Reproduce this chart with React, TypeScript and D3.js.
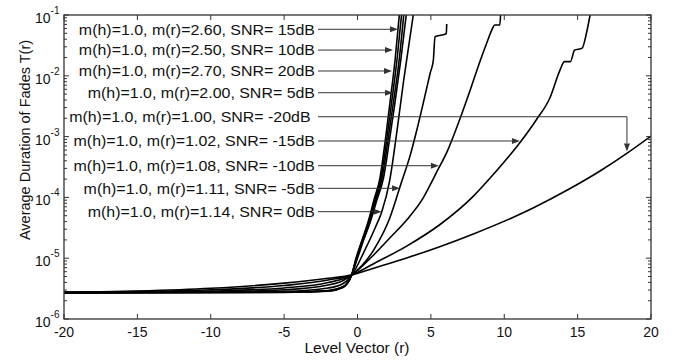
import React from 'react';
import * as d3 from 'd3';

const W = 678;
const H = 361;
const FONT = 'Liberation Sans, Arial, Helvetica, sans-serif';

// Axis extents and ticks
const xDomain: [number, number] = [-20, 20];
const yDomain: [number, number] = [1e-6, 1e-1];
const xTicks = [-20, -15, -10, -5, 0, 5, 10, 15, 20];
const yExponents = [-6, -5, -4, -3, -2, -1];

// Average duration of fades T(r) versus level r, one array per SNR case: [r, T]
const snr15: [number, number][] = [
  [-20, 2.72e-6], [-5, 2.75e-6], [-2, 2.88e-6], [-1, 3.31e-6], [-0.4, 5.3e-6],
  [-0.1, 1.0e-5], [0.31, 1.99e-5], [0.72, 3.94e-5], [1.12, 9.06e-5], [1.53, 2.08e-4],
  [1.87, 7.85e-4], [2.21, 3.57e-3], [2.56, 1.82e-2], [2.85, 1.0e-1],
];
const snr10: [number, number][] = [
  [-20, 2.72e-6], [-5, 2.76e-6], [-2, 2.9e-6], [-1, 3.35e-6], [-0.4, 5.3e-6],
  [-0.08, 1.0e-5], [0.34, 1.99e-5], [0.76, 3.94e-5], [1.18, 9.06e-5], [1.6, 2.08e-4],
  [1.96, 7.85e-4], [2.32, 3.57e-3], [2.69, 1.82e-2], [3.0, 1.0e-1],
];
const snr20: [number, number][] = [
  [-20, 2.72e-6], [-5, 2.74e-6], [-2, 2.86e-6], [-1, 3.28e-6], [-0.4, 5.3e-6],
  [-0.05, 1.0e-5], [0.38, 1.99e-5], [0.82, 3.94e-5], [1.25, 9.06e-5], [1.68, 2.08e-4],
  [2.05, 7.85e-4], [2.44, 3.57e-3], [2.84, 1.82e-2], [3.15, 1.0e-1],
];
const snr5: [number, number][] = [
  [-20, 2.72e-6], [-5, 2.77e-6], [-2, 2.95e-6], [-1, 3.4e-6], [-0.4, 5.3e-6],
  [0.0, 1.0e-5], [0.42, 1.99e-5], [0.87, 3.94e-5], [1.32, 9.06e-5], [1.77, 2.08e-4],
  [2.15, 7.85e-4], [2.55, 3.57e-3], [2.95, 1.82e-2], [3.32, 1.0e-1],
];
const snr0: [number, number][] = [
  [-20, 2.72e-6], [-10, 2.75e-6], [-5, 2.85e-6], [-2, 3.24e-6], [-1, 3.8e-6],
  [-0.4, 5.2e-6], [0.5, 1.36e-5], [1.2, 3.14e-5], [1.65, 5.75e-5], [2.2, 1.93e-4],
  [2.7, 1.29e-3], [3.15, 8.53e-3], [3.5, 3.21e-2], [3.8, 1.0e-1],
];
const snrM5: [number, number][] = [
  [-20, 2.72e-6], [-10, 2.79e-6], [-5, 3.02e-6], [-2, 3.63e-6], [-1, 4.27e-6],
  [-0.4, 5.3e-6], [1.1, 1.36e-5], [2.2, 4.58e-5], [3.0, 1.79e-4], [3.6, 5.01e-4],
  [4.0, 1.17e-3], [4.5, 3.72e-3], [4.95, 1.1e-2], [5.17, 1.82e-2], [5.28, 4.4e-2],
  [5.74, 4.69e-2], [6.05, 4.9e-2], [6.08, 7.11e-2],
];
const snrM10: [number, number][] = [
  [-20, 2.72e-6], [-15, 2.75e-6], [-10, 2.88e-6], [-5, 3.24e-6], [-2, 3.98e-6],
  [-0.4, 5.3e-6], [1.1, 1.13e-5], [2.2, 2.15e-5], [3.35, 4.25e-5], [4.5, 1.0e-4],
  [5.05, 1.78e-4], [5.4, 2.63e-4], [6.1, 5.62e-4], [6.9, 1.74e-3], [7.7, 6.03e-3],
  [8.35, 1.74e-2], [8.8, 3.43e-2], [9.15, 5.66e-2], [9.35, 6.86e-2], [9.7, 6.86e-2],
  [9.75, 1.0e-1],
];
const snrM15: [number, number][] = [
  [-20, 2.72e-6], [-15, 2.82e-6], [-10, 3.02e-6], [-5, 3.55e-6], [-2, 4.37e-6],
  [-0.4, 5.3e-6], [1.1, 8.13e-6], [3.35, 1.58e-5], [5.6, 3.55e-5], [7.9, 1.05e-4],
  [8.9, 1.91e-4], [9.7, 3.16e-4], [11.1, 8.13e-4], [12.2, 1.91e-3], [13.1, 4.27e-3],
  [13.8, 1.24e-2], [14.1, 1.71e-2], [14.5, 1.71e-2], [14.8, 2.65e-2], [15.3, 2.83e-2],
  [15.6, 5.0e-2], [15.85, 1.0e-1],
];
const snrM20: [number, number][] = [
  [-20, 2.72e-6], [-15, 2.88e-6], [-10, 3.2e-6], [-5, 3.89e-6], [-2, 4.68e-6],
  [-0.4, 5.3e-6], [1.1, 6.84e-6], [3.35, 1.01e-5], [5.6, 1.55e-5], [7.9, 2.51e-5],
  [10.4, 4.47e-5], [12.0, 6.76e-5], [14.3, 1.32e-4], [16.5, 2.69e-4], [18.45, 5.5e-4],
  [20, 1.02e-3],
];

const seriesList = [snr15, snr10, snr20, snr5, snrM20, snrM15, snrM10, snrM5, snr0];

// Annotation labels, in stacking order, with the point each arrow marks
const labelTexts = [
  'm(h)=1.0, m(r)=2.60, SNR= 15dB',
  'm(h)=1.0, m(r)=2.50, SNR= 10dB',
  'm(h)=1.0, m(r)=2.70, SNR= 20dB',
  'm(h)=1.0, m(r)=2.00, SNR= 5dB',
  'm(h)=1.0, m(r)=1.00, SNR= -20dB ',
  'm(h)=1.0, m(r)=1.02, SNR= -15dB',
  'm(h)=1.0, m(r)=1.08, SNR= -10dB',
  'm(h)=1.0, m(r)=1.11, SNR= -5dB',
  'm(h)=1.0, m(r)=1.14, SNR= 0dB',
];
const arrowTargets: [number, number][] = [
  [2.76, 5.82e-2], [2.42, 2.65e-2], [2.35, 1.2e-2], [2.42, 5.27e-3],
  [18.36, 5.7e-4], [11.07, 8.47e-4], [5.55, 3.32e-4], [2.9, 1.41e-4], [1.65, 5.82e-5],
];
const labelLevels = [5.82e-2, 2.65e-2, 1.2e-2, 5.27e-3, 2.12e-3, 8.47e-4, 3.32e-4, 1.41e-4, 5.82e-5];

export default function App() {
  const plot = { left: 64, right: 651, top: 15, bottom: 319 };
  const x = d3.scaleLinear().domain(xDomain).range([plot.left, plot.right]);
  const y = d3.scaleLog().domain(yDomain).range([plot.bottom, plot.top]);

  const line = d3
    .line<[number, number]>()
    .x((d) => x(d[0]))
    .y((d) => y(d[1]))
    .curve(d3.curveMonotoneX);

  const minorTicks: number[] = [];
  for (let e = -6; e < -1; e++) {
    for (let m = 2; m <= 9; m++) minorTicks.push(m * Math.pow(10, e));
  }

  const frame = '#333';
  const labelRight = 315;
  const arrowStart = 318;
  const head = 8;

  return (
    <svg
      width={W}
      height={H}
      viewBox={`0 0 ${W} ${H}`}
      style={{ position: 'absolute', left: 0, top: 0, background: '#fff', display: 'block' }}
      fontFamily={FONT}
    >
      <defs>
        <clipPath id="plotClip">
          <rect x={plot.left} y={plot.top} width={plot.right - plot.left} height={plot.bottom - plot.top} />
        </clipPath>
      </defs>
      <rect x={0} y={0} width={W} height={H} fill="#fff" />

      {/* curves */}
      <g clipPath="url(#plotClip)" fill="none" stroke="#000" strokeWidth={1.6} strokeLinejoin="round">
        {seriesList.map((s, i) => (
          <path key={i} d={line(s) || ''} />
        ))}
      </g>

      {/* annotation arrows */}
      <g stroke={frame} strokeWidth={1} fill="none">
        {arrowTargets.map((t, i) => {
          const ly = y(labelLevels[i]);
          const tx = x(t[0]);
          const ty = y(t[1]);
          if (Math.abs(ly - ty) > 2) {
            return (
              <g key={i}>
                <polyline points={`${arrowStart},${ly} ${tx},${ly} ${tx},${ty - head}`} />
                <polygon
                  points={`${tx},${ty} ${tx - 3},${ty - head} ${tx + 3},${ty - head}`}
                  fill={frame}
                  stroke="none"
                />
              </g>
            );
          }
          return (
            <g key={i}>
              <line x1={arrowStart} y1={ly} x2={tx - head} y2={ly} />
              <polygon
                points={`${tx},${ly} ${tx - head},${ly - 3} ${tx - head},${ly + 3}`}
                fill={frame}
                stroke="none"
              />
            </g>
          );
        })}
      </g>

      {/* annotation labels */}
      <g fill="#111" fontSize={14.5}>
        {labelTexts.map((t, i) => (
          <text
            key={i}
            transform={`translate(${labelRight},${y(labelLevels[i])}) scale(1.1,1)`}
            textAnchor="end"
            dominantBaseline="central"
            style={{ whiteSpace: 'pre' }}
          >
            {t}
          </text>
        ))}
      </g>

      {/* frame */}
      <rect
        x={plot.left}
        y={plot.top}
        width={plot.right - plot.left}
        height={plot.bottom - plot.top}
        fill="none"
        stroke={frame}
        strokeWidth={1.3}
      />

      {/* x ticks */}
      <g stroke={frame} strokeWidth={1}>
        {xTicks.map((v) => (
          <g key={v}>
            <line x1={x(v)} x2={x(v)} y1={plot.bottom} y2={plot.bottom - 5} />
            <line x1={x(v)} x2={x(v)} y1={plot.top} y2={plot.top + 5} />
          </g>
        ))}
      </g>
      <g fill="#111" fontSize={14} textAnchor="middle">
        {xTicks.map((v) => (
          <text key={v} x={x(v)} y={337}>
            {v}
          </text>
        ))}
      </g>

      {/* y ticks */}
      <g stroke={frame} strokeWidth={1}>
        {yExponents.map((e) => {
          const yy = y(Math.pow(10, e));
          return (
            <g key={e}>
              <line x1={plot.left} x2={plot.left + 5} y1={yy} y2={yy} />
              <line x1={plot.right} x2={plot.right - 5} y1={yy} y2={yy} />
            </g>
          );
        })}
        {minorTicks.map((v, i) => (
          <g key={i}>
            <line x1={plot.left} x2={plot.left + 3} y1={y(v)} y2={y(v)} />
            <line x1={plot.right} x2={plot.right - 3} y1={y(v)} y2={y(v)} />
          </g>
        ))}
      </g>
      <g fill="#111">
        {yExponents.map((e) => {
          const yy = y(Math.pow(10, e));
          return (
            <text key={e} x={35} y={yy + 8} fontSize={14}>
              10
              <tspan fontSize={10} dy={-9}>
                {e}
              </tspan>
            </text>
          );
        })}
      </g>

      {/* axis titles */}
      <text x={357} y={353} textAnchor="middle" fontSize={15.5} fill="#111">
        Level Vector (r)
      </text>
      <text
        transform={`translate(30,140) rotate(-90)`}
        textAnchor="middle"
        fontSize={14.5}
        fill="#111"
      >
        Average Duration of Fades T(r)
      </text>
    </svg>
  );
}
